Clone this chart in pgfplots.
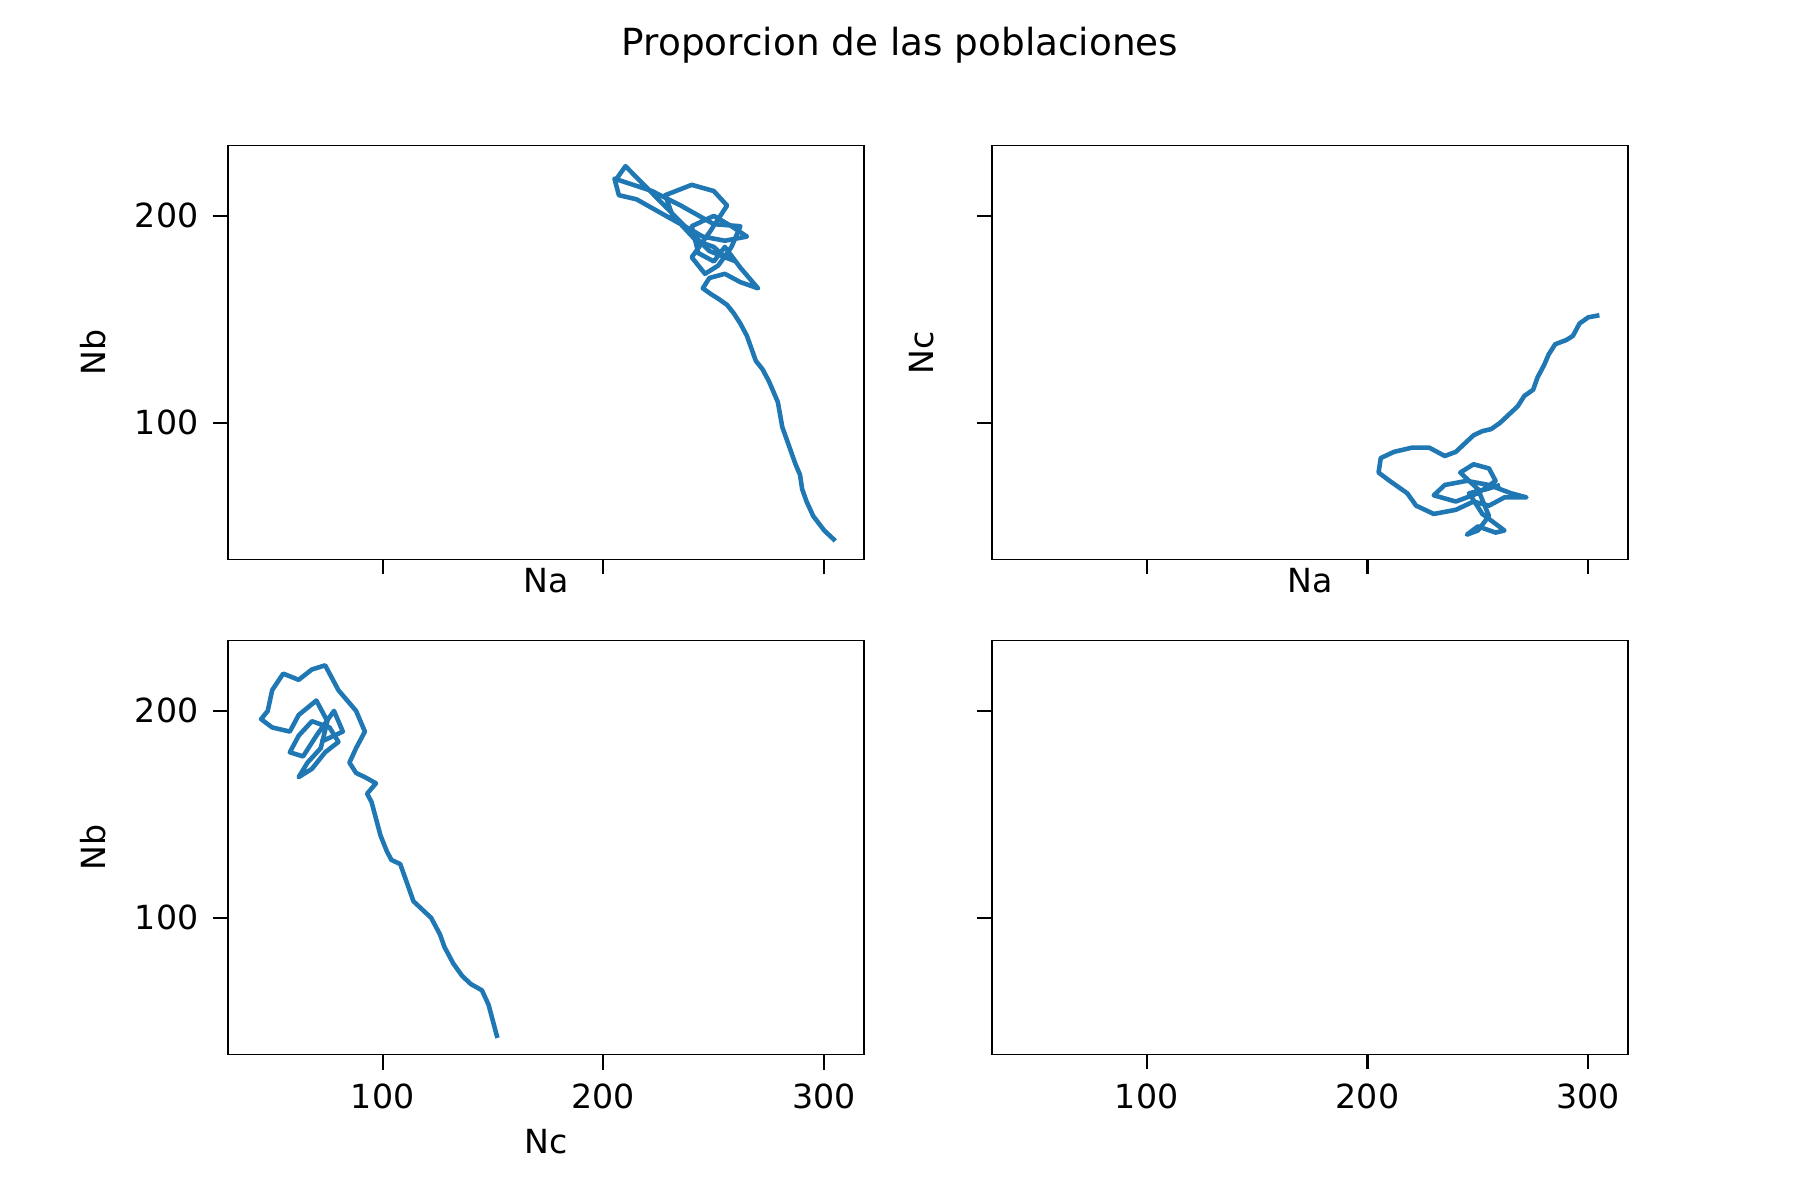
\documentclass[border=0pt]{standalone}
\usepackage{pgfplots}
\pgfplotsset{compat=1.18}
\usepgfplotslibrary{groupplots}
\usetikzlibrary{calc}
\usepackage{fontspec}
\setmainfont{DejaVu Sans}
\definecolor{mpl}{HTML}{1F77B4}
\tikzset{P/.style={color=mpl, line width=1.1pt, line join=round, mark=none}}
\begin{document}
\begin{tikzpicture}
\begin{groupplot}[group style={group size=2 by 2, horizontal sep=0.427in, vertical sep=0.27in},
 width=2.12in, height=1.38in, scale only axis,
 xmin=30, xmax=318, ymin=34, ymax=234,
 xtick={100,200,300}, ytick={100,200},
 tick align=outside, tick pos=left, major tick length=0.05in,
 every tick/.style={black, line width=0.5pt},
 /pgf/number format/assume math mode=true,
 tick label style={font=\footnotesize}, label style={font=\footnotesize},
 xlabel style={yshift=2pt}]
\nextgroupplot[xticklabels={}, xlabel={Na}, xlabel style={yshift=10pt}, ylabel={Nb}]
\addplot[P] coordinates {(305,43)(300,48)(295,55)(292,62)(290,68)(289,75)(287,80)(285,86)(283,92)(281,98)(280,104)(279,110)(277,115)(275,120)(272,126)(269,130)(267,136)(265,142)(262,148)(259,153)(256,157)(252,160)(249,162)(245,165)(248,170)(255,172)(262,168)(270,165)(262,175)(255,185)(250,178)(243,182)(240,195)(250,200)(258,195)(265,190)(255,188)(245,190)(232,198)(228,210)(240,215)(250,212)(256,205)(248,192)(240,180)(246,172)(252,176)(258,185)(262,195)(250,196)(235,205)(222,212)(205,218)(207,210)(215,208)(225,202)(235,196)(242,188)(250,185)(255,180)(260,178)(248,183)(210,224)(206,218)};
\nextgroupplot[xticklabels={}, yticklabels={}, xlabel={Na}, xlabel style={yshift=10pt}, ylabel={Nc}]
\addplot[P] coordinates {(305,152)(300,151)(296,148)(293,142)(290,140)(285,138)(282,133)(280,128)(277,122)(275,116)(271,113)(268,108)(264,104)(260,100)(256,97)(252,96)(248,94)(244,90)(240,86)(235,84)(228,88)(220,88)(212,86)(206,83)(205,76)(210,72)(218,66)(222,60)(230,56)(240,58)(248,62)(255,60)(262,64)(272,64)(265,66)(255,70)(245,72)(235,70)(230,65)(240,62)(250,66)(258,72)(255,78)(248,80)(242,76)(250,68)(255,55)(250,48)(245,46)(250,50)(258,47)(262,48)(252,56)(246,66)(254,68)(260,70)};
\nextgroupplot[xlabel={Nc}, ylabel={Nb}]
\addplot[P] coordinates {(152,42)(150,50)(148,58)(145,65)(140,68)(136,72)(132,78)(128,86)(126,92)(122,100)(118,104)(114,108)(112,114)(110,120)(108,126)(104,128)(102,132)(99,140)(97,148)(95,156)(93,160)(97,165)(92,168)(88,170)(85,175)(88,182)(92,190)(88,200)(80,210)(74,222)(68,220)(62,215)(55,218)(50,210)(48,200)(45,196)(50,192)(58,190)(62,198)(70,205)(75,195)(72,182)(66,175)(62,168)(68,172)(74,180)(80,185)(76,192)(68,195)(62,188)(58,180)(64,178)(70,188)(78,200)(82,190)(72,185)};
\nextgroupplot[yticklabels={}]
\end{groupplot}
\node[font=\small] at ($(group c1r1.north west)+(-0.76in,0.485in)+(3in,-0.15in)$) {Proporcion de las poblaciones};
\path[use as bounding box] ($(group c1r1.north west)+(-0.76in,0.485in)$) rectangle ++(6in,-4in);
\end{tikzpicture}
\end{document}
